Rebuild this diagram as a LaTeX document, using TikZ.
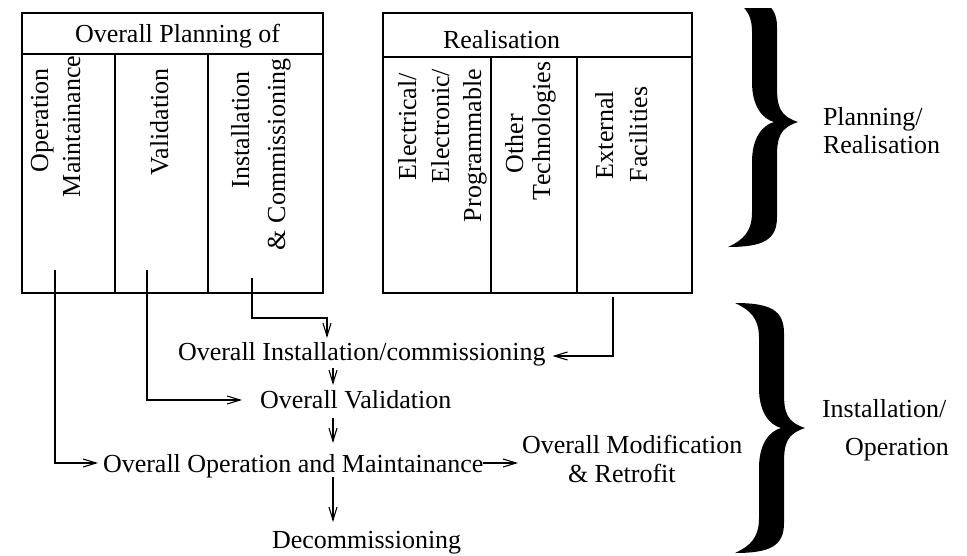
\documentclass[tikz,border=0pt]{standalone}
\usepackage{fontspec}
\setmainfont{Liberation Serif}
\usetikzlibrary{arrows.meta}
\newcommand\bracepathX{(0,0) .. controls (-18,-6) and (-21,-15) .. (-21,-35) -- (-21,-95) .. controls (-21,-118) and (-35,-125) .. (-70,-125) .. controls (-55,-118) and (-46,-110) .. (-46,-90) -- (-46,-40) .. controls (-46,-15) and (-35,-3) .. (-24,0) .. controls (-35,3) and (-46,15) .. (-46,40) -- (-46,90) .. controls (-46,110) and (-55,118) .. (-70,125) .. controls (-35,125) and (-21,118) .. (-21,95) -- (-21,35) .. controls (-21,15) and (-18,6) .. (0,0) -- cycle}
\begin{document}
\begin{tikzpicture}[x=1pt,y=-1pt,
  every node/.style={font=\fontsize{26}{31}\selectfont, inner sep=0pt, outer sep=0pt},
  txt/.style={anchor=base west},
  vtxt/.style={anchor=base west, rotate=90},
  boxline/.style={line width=1.1pt},
  frame/.style={draw, line width=1.1pt, anchor=north west},
  conn/.style={line width=1.1pt, -{Straight Barb[length=13pt,width=8pt]}},
  bracefill/.style={fill=black, draw=none}]
\useasboundingbox (0,0) rectangle (967,555);
\fill[white] (0,0) rectangle (967,555);

% left box
\node[frame, minimum width=301pt, minimum height=280pt] (lbox) at (22,13) {};
\draw[boxline] (22,54) -- (323,54);
\draw[boxline] (115,54) -- (115,293);
\draw[boxline] (208,54) -- (208,293);
\node[txt] (lh) at (75,42) {Overall Planning of};
\node[vtxt] (op) at (48,172) {Operation};
\node[vtxt] (ma) at (80,197) {Maintainance};
\node[vtxt] (va) at (168,175) {Validation};
\node[vtxt] (in1) at (249,188) {Installation};
\node[vtxt] (in2) at (285,250) {\& Commissioning};

% right box
\node[frame, minimum width=309pt, minimum height=280pt] (rbox) at (383,13) {};
\draw[boxline] (383,57) -- (692,57);
\draw[boxline] (491,57) -- (491,293);
\draw[boxline] (577,57) -- (577,293);
\node[txt] (rh) at (443,48) {Realisation};
\node[vtxt] (el1) at (416,180) {Electrical/};
\node[vtxt] (el2) at (449,183) {Electronic/};
\node[vtxt] (el3) at (481,222) {Programmable};
\node[vtxt] (ot1) at (523,173) {Other};
\node[vtxt] (ot2) at (550,200) {Technologies};
\node[vtxt] (ex1) at (613,179) {External};
\node[vtxt] (ex2) at (647,182) {Facilities};

% flow texts
\node[txt] (inst) at (178,360) {Overall Installation/commissioning};
\node[txt] (val) at (260,408) {Overall Validation};
\node[txt] (opm) at (103,472) {Overall Operation and Maintainance};
\node[txt] (mod) at (522,453) {Overall Modification};
\node[txt] (modb) at (568,482) {\& Retrofit};
\node[txt] (dec) at (272,548) {Decommissioning};

% right labels
\node[txt] (pl1) at (823,125) {Planning/};
\node[txt] (pl2) at (823,153) {Realisation};
\node[txt] (io1) at (822,417) {Installation/};
\node[txt] (io2) at (845,455) {Operation};

% connectors
\coordinate (opS) at (55,270);
\coordinate (vaS) at (147,270);
\coordinate (inS) at (252,278);
\coordinate (inT) at (327,338);
\coordinate (exS) at (613,297);
\draw[conn] (opS) |- ([xshift=-5pt,yshift=9pt]opm.base west);
\draw[conn] (vaS) |- ([xshift=-18pt,yshift=8pt]val.base west);
\draw[conn] (inS) -- (252,318) -| (inT);
\draw[conn] (exS) |- ([xshift=7pt,yshift=4pt]inst.base east);
\draw[conn] ([xshift=155pt,yshift=-8pt]inst.base west) -- ([xshift=73pt,yshift=23pt]val.base west);
\draw[conn] ([xshift=73pt,yshift=-10pt]val.base west) -- ([xshift=230pt,yshift=29pt]opm.base west);
\draw[conn] ([xshift=230pt,yshift=-5pt]opm.base west) -- ([xshift=61pt,yshift=26pt]dec.base west);
\draw[conn] ([yshift=9pt]opm.base east) -- ([xshift=-4pt,yshift=-10pt]mod.base west);

% braces
\begin{scope}
  \clip (700,8) rectangle (967,300);
  \fill[bracefill, shift={(798,122)}] \bracepathX;
\end{scope}
\fill[bracefill, shift={(805,428)}] \bracepathX;
\end{tikzpicture}
\end{document}
